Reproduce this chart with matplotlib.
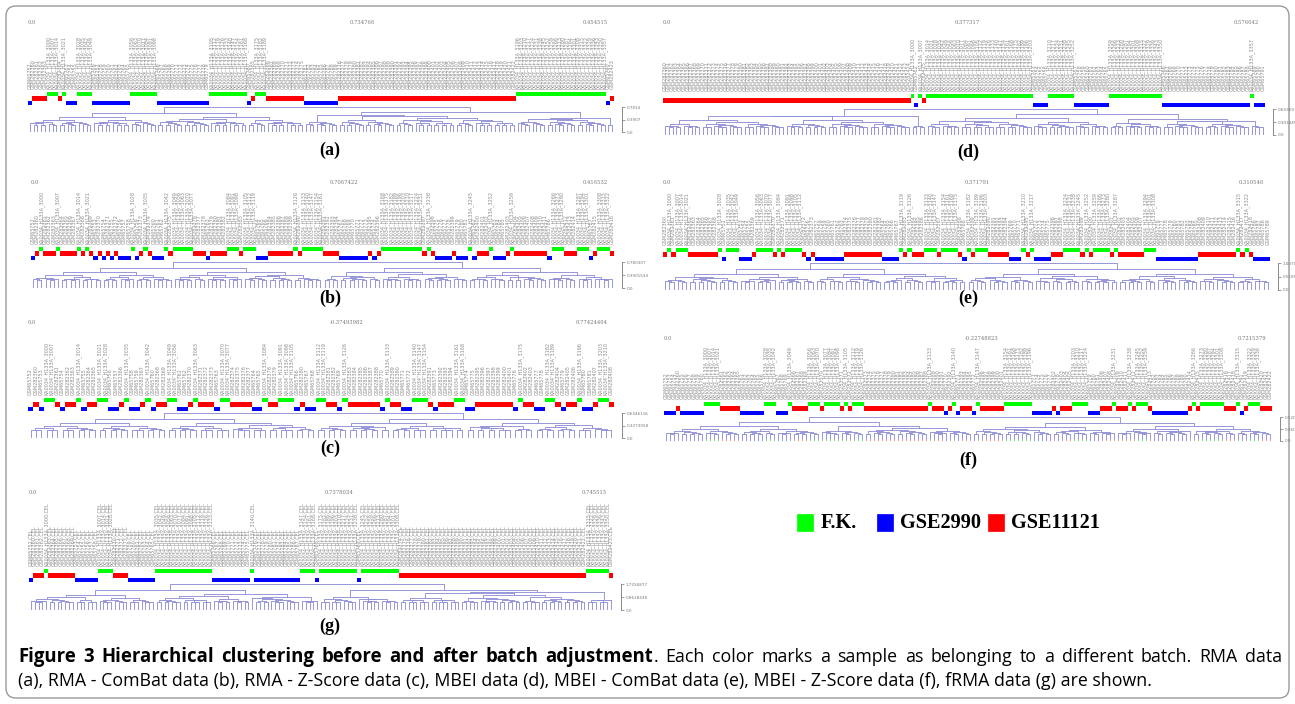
import matplotlib
matplotlib.use('Agg')
import matplotlib.pyplot as plt
from matplotlib.collections import LineCollection
from matplotlib.patches import FancyBboxPatch, Rectangle
import numpy as np

W, H = 1295, 704

# ---------------- data: batch of each sample, left to right (run-length) ----------------
# G = F.K., B = GSE2990, R = GSE11121
seq_a = "B1 R4 G3 R1 G1 B3 G4 B10 G7 B14 G10 B1 R1 G3 R10 B9 R47 G24 B1 R1"
seq_b = ("B1 R1 G1 R3 G1 R4 G1 R1 G1 R1 B1 R1 B1 R1 B1 R1 B3 G1 B1 R1 G1 R1 B3 G1 R1 G5 "
         "R3 B1 R4 G3 R1 G3 B3 R6 G1 R1 G5 R4 B7 R1 B1 R1 G10 R1 G1 R1 B4 R1 B3 G1 B1 R3 "
         "G1 B3 R1 G1 R8 B1 G3 R3 G3 B1 R1 G3 R1")
seq_c = ("B1 R1 B1 G2 R1 B1 R2 G1 B1 R2 G2 B2 R1 G1 B2 R1 G1 B1 R2 G2 B2 R1 G1 R3 B1 G2 "
         "R4 B2 G1 R2 G3 B1 R1 B2 G2 R2 B1 G1 R6 B1 G1 R2 B2 G3 R1 B1 R3 G2 B2 R7 B1 G1 "
         "R2 B2 G2 R1 B1 R2 G1 B2 R1 G2 R1")
seq_d = "R65 G1 B1 G1 R1 G28 B4 G7 B9 G14 B23 G1 B3"
seq_e = ("R1 G1 R1 G3 R7 G1 B1 G3 B3 R1 G4 R1 G1 R1 G4 R1 B1 R1 B7 R9 B4 G1 R1 G1 R3 G3 "
         "R1 G4 R1 B1 G1 R1 G3 R5 B3 G1 R1 G1 B4 R3 G4 R1 G1 R1 G4 R1 G1 R6 G3 B10 R9 G1 "
         "R1 G1 R1 B4")
seq_f = ("B3 R1 B6 G4 R5 B6 G3 B3 G1 R4 G3 R1 G4 R1 G1 R1 G3 R16 G1 R3 B1 R1 G1 B1 R3 B1 "
         "G1 R6 G7 B5 R1 B1 R3 G4 B3 R3 G1 R3 G1 R1 G3 R1 B9 R1 G1 R1 G6 R3 G1 B1 R1 G3 R3")
seq_g = "B1 R3 G1 R7 B6 G4 R4 B7 G15 B10 G1 B12 G4 B1 G10 B1 G10 R49 G6 R1"

panel_ids = ['a', 'b', 'c', 'd', 'e', 'f', 'g']
panel_seqs = [seq_a, seq_b, seq_c, seq_d, seq_e, seq_f, seq_g]
top_values = [('0.0', '0.734766', '0.454515'),
              ('0.0', '0.7067422', '0.416532'),
              ('0.0', '-0.37493982', '0.77424404'),
              ('0.0', '0.377317', '0.576642'),
              ('0.0', '0.371791', '0.310546'),
              ('0.0', '-0.22748823', '0.7215379'),
              ('0.0', '0.7378034', '0.745515')]
scale_labels = [('0.7814', '0.3907', '0.0'),
                ('0.780307', '0.3901534', '0.0'),
                ('0.6546116', '0.3273058', '0.0'),
                ('0.60369', '0.301845', '0.0'),
                ('1.0370863', '0.5185432', '0.0'),
                ('0.52055', '0.260275', '0.0'),
                ('1.7256877', '0.8628438', '0.0')]

batch_names = ['F.K.', 'GSE2990', 'GSE11121']
batch_codes = ['G', 'B', 'R']
batch_colors = ['#00ff00', '#0000ff', '#ff0000']
leaf_tint = {'G': '#7ee87e', 'B': '#9a9aff', 'R': '#ff9a9a'}

caption_bold = "Figure 3 Hierarchical clustering before and after batch adjustment"
caption_rest1 = ". Each color marks a sample as belonging to a different batch. RMA data"
caption_line2 = ("(a), RMA - ComBat data (b), RMA - Z-Score data (c), MBEI data (d), MBEI - ComBat "
                 "data (e), MBEI - Z-Score data (f), fRMA data (g) are shown.")

# ---------------- layout (pixels) ----------------
# x0, x1, y_topvals, strip_top, strip_bot, dend_bot, letter_y, mid_value_x
layout = {
    'a': (28, 614, 22, 92, 105, 132, 150, 350),
    'b': (31, 614, 183, 247, 260, 288, 298, 330),
    'c': (28, 614, 323, 398, 411, 438, 448, 330),
    'g': (29, 613, 492, 569, 582, 610, 626, 325),
    'd': (663, 1265, 22, 94, 107, 135, 152, 955),
    'e': (663, 1270, 183, 248, 261, 290, 298, 965),
    'f': (664, 1272, 338, 402, 415, 441, 460, 965),
}
row_of = {'G': 2, 'R': 1, 'B': 0}
color_of = dict(zip(batch_codes, batch_colors))
DEND_COLOR = '#9090d8'
LABEL_COLOR = '#8c8c8c'

fig = plt.figure(figsize=(W / 100, H / 100), dpi=100)
bg = fig.add_axes([0, 0, 1, 1], zorder=-1)
bg.set_xlim(0, W)
bg.set_ylim(H, 0)
bg.axis('off')


def ax_px(x0, y0, x1, y1):
    return fig.add_axes([x0 / W, 1 - y1 / H, (x1 - x0) / W, (y1 - y0) / H])


def expand(seq):
    out = []
    for tok in seq.split():
        out += [tok[0]] * int(tok[1:])
    return out


def build_tree(lo, hi, bounds, depth, N, hmax, segs):
    n = hi - lo
    if n == 1:
        return lo + 0.5, 0.0
    inner = [b for b in bounds if lo < b < hi]
    if inner:
        mid = (lo + hi) / 2
        split = min(inner, key=lambda b: abs(b - mid))
    else:
        split = lo + (n // 2 if depth % 2 == 0 else max(1, n // 3))
    xl, hl = build_tree(lo, split, bounds, depth + 1, N, hmax, segs)
    xr, hr = build_tree(split, hi, bounds, depth + 1, N, hmax, segs)
    h = hmax * (0.24 + 0.76 * ((n - 1) / (N - 1)) ** 0.5)
    segs.append([(xl, hl), (xl, h), (xr, h), (xr, hr)])
    return (xl + xr) / 2, h


for pid, seq, tv, sl in zip(panel_ids, panel_seqs, top_values, scale_labels):
    x0, x1, ytv, st, sb, db, ly, mx = layout[pid]
    letters = expand(seq)
    N = len(letters)
    idx = np.arange(N)

    # sample names
    cnt = {'G': 0, 'B': 0, 'R': 0}
    names = []
    for c in letters:
        k = cnt[c]
        cnt[c] += 1
        if c == 'G':
            nm = "KA0034_H133A_%04d" % (3000 + 7 * k)
        elif c == 'B':
            nm = "GSM65%03d" % (752 + k)
        else:
            nm = "GSM282%03d" % (360 + k)
        if pid == 'g':
            nm += ".CEL"
        names.append(nm)

    # colour strip
    axs = ax_px(x0, st, x1, sb)
    axs.bar(idx, 1.0, bottom=[row_of[c] for c in letters], width=1.0, align='edge',
            color=[color_of[c] for c in letters], linewidth=0)
    axs.set_xlim(0, N)
    axs.set_ylim(0, 3)
    axs.set_xticks(idx + 0.5)
    axs.set_xticklabels(names, rotation=90, fontsize=3.5, color=LABEL_COLOR,
                        family='DejaVu Sans')
    axs.xaxis.tick_top()
    axs.tick_params(axis='x', length=0, pad=2)
    axs.set_yticks([])
    for s in axs.spines.values():
        s.set_visible(False)
    axs.patch.set_alpha(0)

    # dendrogram
    hmax = float(sl[0])
    bounds = [i for i in range(1, N) if letters[i] != letters[i - 1]]
    segs = []
    build_tree(0, N, bounds, 0, N, hmax, segs)
    axd = ax_px(x0, sb + 2, x1, db)
    axd.add_collection(LineCollection(segs, colors=DEND_COLOR, linewidths=0.65))
    if pid == 'f':
        leaf_segs = [[(i + 0.5, 0), (i + 0.5, hmax * 0.07)] for i in idx]
        axd.add_collection(LineCollection(leaf_segs, colors=[leaf_tint[c] for c in letters],
                                          linewidths=0.8))
    axd.set_xlim(0, N)
    axd.set_ylim(0, hmax * 1.01)
    axd.set_xticks([])
    for k in ['top', 'left', 'bottom']:
        axd.spines[k].set_visible(False)
    axd.spines['right'].set_position(('outward', 6))
    axd.spines['right'].set_color('#777777')
    axd.spines['right'].set_linewidth(0.6)
    axd.yaxis.tick_right()
    axd.set_yticks([hmax, hmax / 2, 0])
    axd.set_yticklabels(list(sl), fontsize=3, color='#666666')
    axd.tick_params(axis='y', length=2, width=0.5, pad=1, colors='#777777')
    axd.patch.set_alpha(0)

    # small values at top
    bg.text(x0, ytv, tv[0], fontsize=3.8, color='#777777', family='DejaVu Serif',
            ha='left', va='center')
    bg.text(mx, ytv, tv[1], fontsize=3.8, color='#777777', family='DejaVu Serif',
            ha='left', va='center')
    bg.text(x1 - 6, ytv, tv[2], fontsize=3.8, color='#777777', family='DejaVu Serif',
            ha='right', va='center')

    # panel letter
    lx = 330 if x0 < 600 else 968
    bg.text(lx, ly, '(%s)' % pid, fontsize=13, fontweight='bold',
            family='Liberation Serif', ha='center', va='center')

# legend
leg_sq_x = [797, 877, 988]
leg_tx_x = [821, 900, 1011]
for name, col, sx, tx in zip(batch_names, batch_colors, leg_sq_x, leg_tx_x):
    bg.add_patch(Rectangle((sx, 514), 16, 17, facecolor=col, edgecolor=col, lw=0.5))
    bg.text(tx, 523, name, fontsize=14.6, fontweight='bold', family='Liberation Serif',
            ha='left', va='center')

# border
bg.add_patch(FancyBboxPatch((6, 6), W - 12, H - 12,
                            boxstyle='round,pad=0,rounding_size=10',
                            facecolor='none', edgecolor='#9a9a9a', lw=1.0))

# caption
fig.canvas.draw()
r = fig.canvas.get_renderer()
fs = 11
t2 = bg.text(18, 681, caption_line2, fontsize=fs, family='Open Sans', va='center', ha='left')
w2 = t2.get_window_extent(r).width
fs = fs * 1132 / w2
t2.set_fontsize(fs)
fs_bold = fs * 1.045

# line 1, justified between x=18 and x=1282
words = []
bw = caption_bold.split()
for w in bw[:-1]:
    words.append([(w, True)])
rest = caption_rest1.split()
words.append([(bw[-1], True), (rest[0], False)])   # "adjustment" + "."
for w in rest[1:]:
    words.append([(w, False)])

objs = []
total = 0.0
for wd in words:
    parts = []
    for txt, bold in wd:
        t = bg.text(0, 657, txt, fontsize=fs_bold if bold else fs, family='Open Sans',
                    fontweight='bold' if bold else 'normal', va='center', ha='left')
        parts.append(t)
    objs.append(parts)
fig.canvas.draw()
widths = []
for parts in objs:
    ws = [p.get_window_extent(r).width for p in parts]
    widths.append(ws)
    total += sum(ws)
gap = (1282 - 18 - total) / (len(words) - 1)
x = 18.0
for parts, ws in zip(objs, widths):
    for p, w in zip(parts, ws):
        p.set_x(x)
        x += w
    x += gap

fig.savefig('out.png', dpi=100)
